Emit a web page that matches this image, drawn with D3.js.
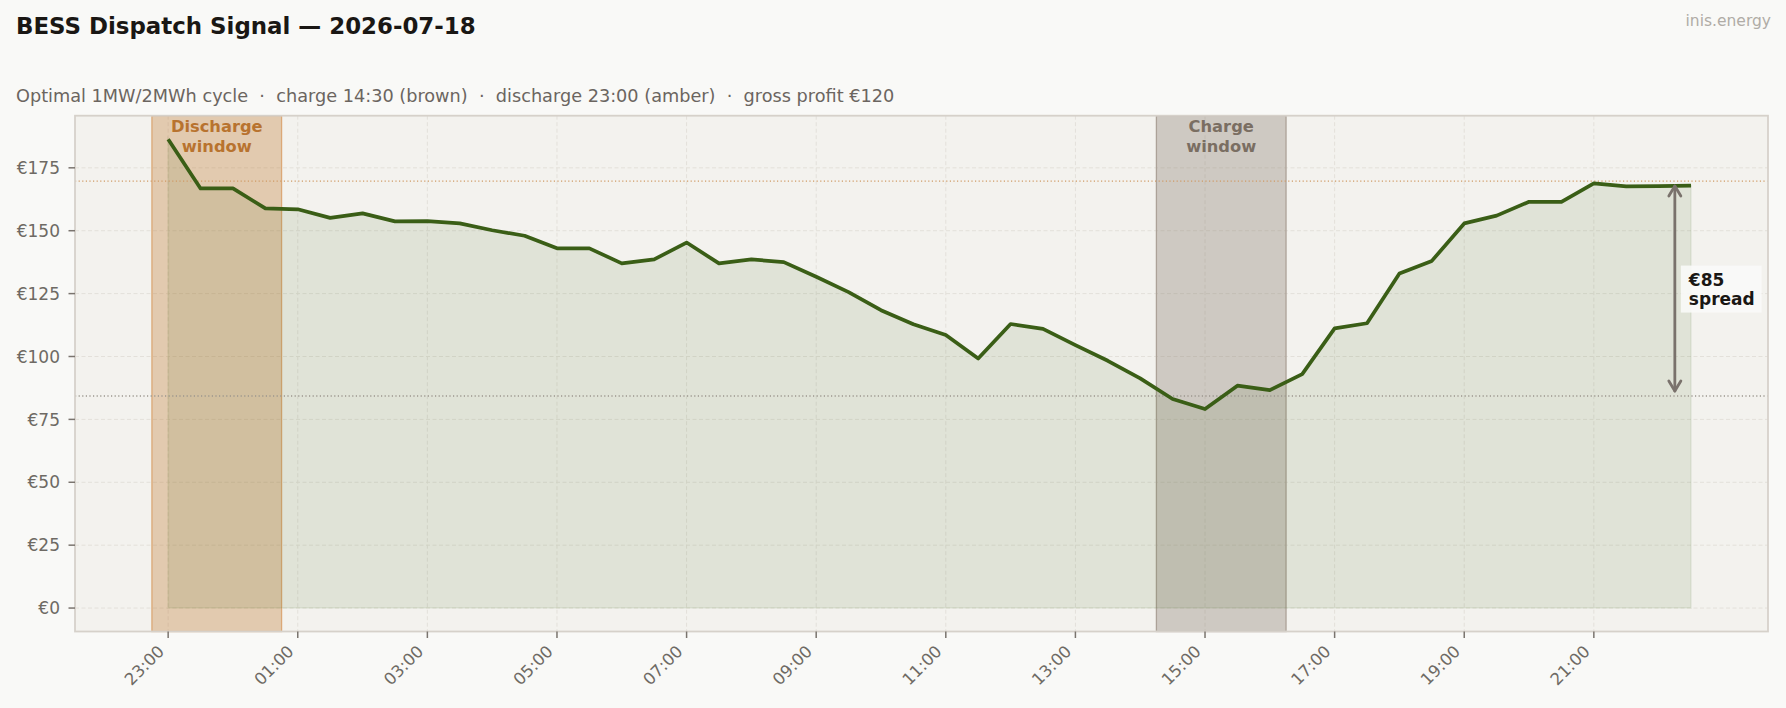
<!DOCTYPE html>
<html>
<head>
<meta charset="utf-8">
<script src="https://cdn.jsdelivr.net/npm/d3@7"></script>
<style>
  body { margin: 0; background: #f9f9f7; }
  svg text { font-family: "DejaVu Sans", sans-serif; }
</style>
</head>
<body>
<div id="chart"></div>
<script>
// half-hourly day-ahead slots, 23:00 (previous day) .. 22:30
const slots = ["23:00","23:30","00:00","00:30","01:00","01:30","02:00","02:30",
               "03:00","03:30","04:00","04:30","05:00","05:30","06:00","06:30",
               "07:00","07:30","08:00","08:30","09:00","09:30","10:00","10:30",
               "11:00","11:30","12:00","12:30","13:00","13:30","14:00","14:30",
               "15:00","15:30","16:00","16:30","17:00","17:30","18:00","18:30",
               "19:00","19:30","20:00","20:30","21:00","21:30","22:00","22:30"];
const prices = [186.4,166.8,166.8,158.9,158.5,155.1,156.9,153.7,
                153.8,152.9,150.2,148.0,143.0,143.0,137.0,138.6,
                145.3,137.0,138.6,137.5,131.7,125.6,118.4,112.8,
                108.5,99.2,112.9,111.0,104.5,98.3,91.3,83.1,
                79.1,88.4,86.6,93.0,111.2,113.2,133.0,138.0,
                152.9,156.0,161.5,161.5,168.8,167.6,167.7,167.9];
const xTickLabels = ["23:00","01:00","03:00","05:00","07:00","09:00","11:00","13:00","15:00","17:00","19:00","21:00"];
const yTicks = [0, 25, 50, 75, 100, 125, 150, 175];
const dischargeSlots = ["23:00","23:30","00:00","00:30"];
const chargeSlots = ["14:30","15:00","15:30","16:00"];
const spreadAt = "22:15";

const W = 1786, H = 708;
const box = { left: 75, right: 1768, top: 115.7, bottom: 631.5 };

// slots from 23:00 on belong to the previous day
function toDate(s) {
  const [h, m] = s.split(":").map(Number);
  return new Date(2026, 6, h >= 23 ? 17 : 18, h, m);
}
const HALF = 15 * 60 * 1000;
const data = slots.map((s, i) => ({ t: toDate(s), v: prices[i] }));

const disStart = new Date(toDate(dischargeSlots[0]) - HALF);
const disEnd = new Date(+toDate(dischargeSlots[dischargeSlots.length - 1]) + HALF);
const chgStart = new Date(toDate(chargeSlots[0]) - HALF);
const chgEnd = new Date(+toDate(chargeSlots[chargeSlots.length - 1]) + HALF);

const lo = +disStart, hi = +data[data.length - 1].t;
const padX = (hi - lo) * 0.05;
const x = d3.scaleTime()
  .domain([new Date(lo - padX), new Date(hi + padX)])
  .range([box.left, box.right]);

const vmax = d3.max(prices);
const y = d3.scaleLinear()
  .domain([-vmax * 0.05, vmax * 1.05])
  .range([box.bottom, box.top]);

const disAvg = d3.mean(dischargeSlots, s => prices[slots.indexOf(s)]);
const chgAvg = d3.mean(chargeSlots, s => prices[slots.indexOf(s)]);

const svg = d3.select("#chart").append("svg")
  .attr("width", W).attr("height", H)
  .style("display", "block");

svg.append("rect").attr("width", W).attr("height", H).attr("fill", "#f9f9f7");

// plot background
svg.append("rect")
  .attr("x", box.left).attr("y", box.top)
  .attr("width", box.right - box.left).attr("height", box.bottom - box.top)
  .attr("fill", "#f3f2ee");

// grid
const grid = svg.append("g").attr("stroke", "#e3e0da").attr("stroke-width", 1).attr("stroke-dasharray", "4,2.5");
grid.selectAll(".gx").data(xTickLabels).enter().append("line")
  .attr("x1", d => x(toDate(d))).attr("x2", d => x(toDate(d)))
  .attr("y1", box.top).attr("y2", box.bottom);
grid.selectAll(".gy").data(yTicks).enter().append("line")
  .attr("x1", box.left).attr("x2", box.right)
  .attr("y1", d => y(d)).attr("y2", d => y(d));

// dispatch windows
svg.append("rect")
  .attr("x", x(disStart)).attr("y", box.top)
  .attr("width", x(disEnd) - x(disStart)).attr("height", box.bottom - box.top)
  .attr("fill", "#c07830").attr("fill-opacity", 0.33)
  .attr("stroke", "#dba877").attr("stroke-width", 1.3);
svg.append("rect")
  .attr("x", x(chgStart)).attr("y", box.top)
  .attr("width", x(chgEnd) - x(chgStart)).attr("height", box.bottom - box.top)
  .attr("fill", "#8a7d70").attr("fill-opacity", 0.35)
  .attr("stroke", "#aca298").attr("stroke-width", 1.3);

// area under price
const area = d3.area().x(d => x(d.t)).y0(y(0)).y1(d => y(d.v));
svg.append("path").datum(data)
  .attr("d", area)
  .attr("fill", "#3a5e16").attr("fill-opacity", 0.1)
  .attr("stroke", "#3a5e16").attr("stroke-opacity", 0.06).attr("stroke-width", 2);

// average price levels
svg.append("line")
  .attr("x1", box.left).attr("x2", box.right)
  .attr("y1", y(disAvg)).attr("y2", y(disAvg))
  .attr("stroke", "#d09a64").attr("stroke-width", 1.3).attr("stroke-dasharray", "1.2,2.4");
svg.append("line")
  .attr("x1", box.left).attr("x2", box.right)
  .attr("y1", y(chgAvg)).attr("y2", y(chgAvg))
  .attr("stroke", "#9c968e").attr("stroke-width", 1.3).attr("stroke-dasharray", "1.2,2.4");

// price line
const line = d3.line().x(d => x(d.t)).y(d => y(d.v));
svg.append("path").datum(data)
  .attr("d", line)
  .attr("fill", "none")
  .attr("stroke", "#3a5e16").attr("stroke-width", 3.7)
  .attr("stroke-linejoin", "round");

// window labels
function windowLabel(cx, txt, color) {
  const t = svg.append("text")
    .attr("x", cx).attr("y", 132)
    .attr("text-anchor", "middle")
    .attr("font-size", 16.3).attr("font-weight", "bold")
    .attr("fill", color);
  txt.forEach((s, i) => t.append("tspan").attr("x", cx).attr("dy", i ? 20 : 0).text(s));
}
windowLabel((x(disStart) + x(disEnd)) / 2, ["Discharge", "window"], "#b8732f");
windowLabel((x(chgStart) + x(chgEnd)) / 2, ["Charge", "window"], "#7a6e62");

// spread arrow
const ax = x(toDate(spreadAt));
const yTop = y(disAvg) + 5, yBot = y(chgAvg) - 5;
const arrow = svg.append("g").attr("stroke", "#7a726c").attr("stroke-width", 2.8)
  .attr("fill", "none").attr("stroke-linecap", "round").attr("stroke-linejoin", "round");
arrow.append("line").attr("x1", ax).attr("x2", ax).attr("y1", yTop).attr("y2", yBot);
arrow.append("polyline").attr("points", `${ax - 6},${yTop + 10} ${ax},${yTop} ${ax + 6},${yTop + 10}`);
arrow.append("polyline").attr("points", `${ax - 6},${yBot - 10} ${ax},${yBot} ${ax + 6},${yBot - 10}`);

const mid = y((disAvg + chgAvg) / 2);
const lblG = svg.append("g");
const lblBg = lblG.append("rect").attr("fill", "#fafaf8").attr("fill-opacity", 0.9);
const lbl = lblG.append("text")
  .attr("font-size", 17).attr("font-weight", "bold").attr("fill", "#1a1714");
lbl.append("tspan").attr("x", ax + 14).attr("y", mid - 3).text("€" + Math.round(disAvg - chgAvg));
lbl.append("tspan").attr("x", ax + 14).attr("y", mid + 16).text("spread");
const bb = lbl.node().getBBox();
lblBg.attr("x", bb.x - 7).attr("y", bb.y - 4).attr("width", bb.width + 14).attr("height", bb.height + 8);

// frame
svg.append("rect")
  .attr("x", box.left).attr("y", box.top)
  .attr("width", box.right - box.left).attr("height", box.bottom - box.top)
  .attr("fill", "none").attr("stroke", "#d6d1ca").attr("stroke-width", 1.8);

// y axis
const yAxis = svg.append("g");
yAxis.selectAll("line").data(yTicks).enter().append("line")
  .attr("x1", box.left - 6.5).attr("x2", box.left)
  .attr("y1", d => y(d)).attr("y2", d => y(d))
  .attr("stroke", "#7a746e").attr("stroke-width", 1.5);
yAxis.selectAll("text").data(yTicks).enter().append("text")
  .attr("x", box.left - 15).attr("y", d => y(d)).attr("dy", "0.36em")
  .attr("text-anchor", "end").attr("font-size", 17).attr("fill", "#6e6a64")
  .text(d => "€" + d);

// x axis
const xAxis = svg.append("g");
xAxis.selectAll("line").data(xTickLabels).enter().append("line")
  .attr("x1", d => x(toDate(d))).attr("x2", d => x(toDate(d)))
  .attr("y1", box.bottom).attr("y2", box.bottom + 6.5)
  .attr("stroke", "#7a746e").attr("stroke-width", 1.5);
xAxis.selectAll("text").data(xTickLabels).enter().append("text")
  .attr("transform", d => `translate(${x(toDate(d)) - 3},${box.bottom + 21}) rotate(-45)`)
  .attr("text-anchor", "end").attr("font-size", 16.5).attr("fill", "#6e6a64")
  .text(d => d);

// titles
svg.append("text").attr("x", 16).attr("y", 33.5)
  .attr("font-size", 22.9).attr("font-weight", "bold").attr("fill", "#1a1714")
  .text("BESS Dispatch Signal — 2026-07-18");
svg.append("text").attr("x", 16).attr("y", 101.5)
  .attr("font-size", 17.7).attr("fill", "#6b6560")
  .attr("xml:space", "preserve").style("white-space", "pre")
  .text("Optimal 1MW/2MWh cycle  ·  charge 14:30 (brown)  ·  discharge 23:00 (amber)  ·  gross profit €120");
svg.append("text").attr("x", 1771).attr("y", 26)
  .attr("text-anchor", "end").attr("font-size", 15.5).attr("fill", "#b0aca6")
  .text("inis.energy");
</script>
</body>
</html>
